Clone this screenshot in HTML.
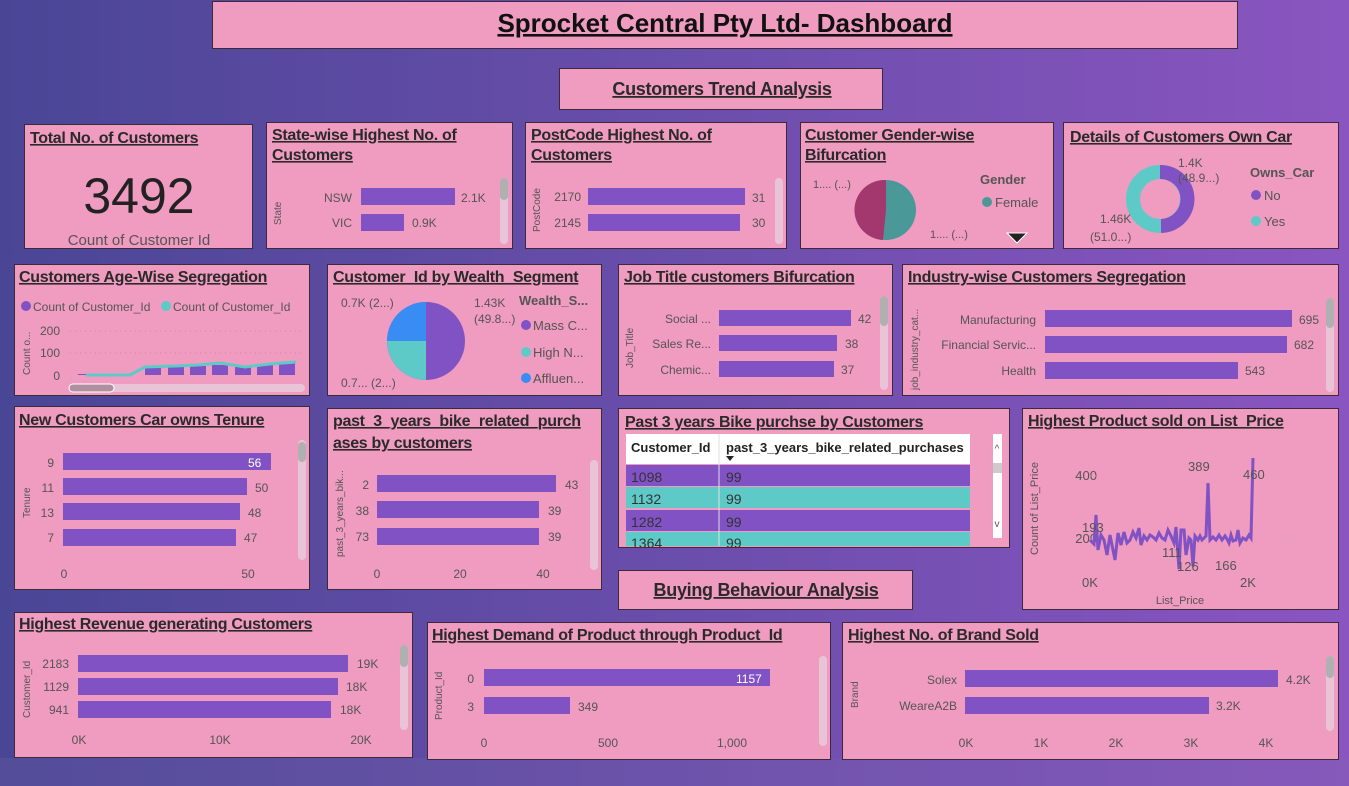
<!DOCTYPE html><html><head><meta charset="utf-8"><style>
body{margin:0;width:1349px;height:786px;overflow:hidden}
svg{display:block;font-family:"Liberation Sans",sans-serif}
.t{font-weight:bold;font-size:16px;fill:#2a2a2a;text-decoration:underline;letter-spacing:-0.3px}
.l{font-size:12px;fill:#555}
.p{fill:#f09bc0;stroke:#3a2a3a;stroke-width:1}
.b{fill:#8152c4}
.s{fill:#e8c4d6}
.sk{fill:#b0b0b0}
</style></head><body>
<svg width="1349" height="786" viewBox="0 0 1349 786">
<defs><linearGradient id="g" x1="0" x2="1"><stop offset="0" stop-color="#4a4696"/><stop offset="1" stop-color="#8a55c0"/></linearGradient></defs>
<rect width="1349" height="786" fill="url(#g)"/>
<rect x="0" y="758" width="1349" height="28" fill="#7a6aa8" opacity="0.2"/>
<!-- title -->
<rect class="p" x="212.5" y="1.5" width="1025" height="47"/>
<text x="725" y="32" text-anchor="middle" style="font-weight:bold;font-size:26px;text-decoration:underline;fill:#111">Sprocket Central Pty Ltd- Dashboard</text>
<rect class="p" x="559.5" y="68.5" width="323" height="41" stroke="none"/>
<text x="722" y="95" text-anchor="middle" class="t" style="font-size:18px">Customers Trend Analysis</text>
<!-- total -->
<rect class="p" x="24.5" y="124.5" width="228" height="124"/>
<text x="30" y="143" class="t">Total No. of Customers</text>
<text x="139" y="213" text-anchor="middle" style="font-size:50px;fill:#222">3492</text>
<text x="139" y="245" text-anchor="middle" style="font-size:15px;fill:#555">Count of Customer Id</text>
<!-- state -->
<rect class="p" x="266.5" y="122.5" width="246" height="126"/>
<text x="272" y="140" class="t">State-wise Highest No. of</text>
<text x="272" y="160" class="t">Customers</text>
<text x="281" y="225" class="l" transform="rotate(-90 281 225)" style="font-size:10px">State</text>
<text x="352" y="202" class="l" text-anchor="end">NSW</text><rect class="b" x="361" y="188" width="94" height="17"/><text x="461" y="202" class="l">2.1K</text>
<text x="352" y="227" class="l" text-anchor="end">VIC</text><rect class="b" x="361" y="214" width="43" height="17"/><text x="412" y="227" class="l">0.9K</text>
<rect class="s" x="500" y="178" width="8" height="66" rx="4"/><rect class="sk" x="500" y="178" width="8" height="22" rx="4"/>
<!-- postcode -->
<rect class="p" x="525.5" y="122.5" width="261" height="126"/>
<text x="531" y="140" class="t">PostCode Highest No. of</text>
<text x="531" y="160" class="t">Customers</text>
<text x="540" y="232" class="l" transform="rotate(-90 540 232)" style="font-size:10px">PostCode</text>
<text x="581" y="201" class="l" text-anchor="end">2170</text><rect class="b" x="588" y="188" width="157" height="17"/><text x="752" y="202" class="l">31</text>
<text x="581" y="227" class="l" text-anchor="end">2145</text><rect class="b" x="588" y="214" width="152" height="17"/><text x="752" y="227" class="l">30</text>
<rect class="s" x="775" y="178" width="8" height="66" rx="4"/>
<!-- gender -->
<rect class="p" x="800.5" y="122.5" width="253" height="126"/>
<text x="805" y="140" class="t">Customer Gender-wise</text>
<text x="805" y="160" class="t">Bifurcation</text>
<circle cx="886" cy="210" r="30" fill="#4a9898"/>
<path d="M886 210 L886 180 A30 30 0 0 0 883 240Z" fill="#a2386e"/>
<text x="813" y="188" class="l" style="font-size:11px">1.... (...)</text>
<text x="930" y="238" class="l" style="font-size:11px">1.... (...)</text>
<text x="980" y="184" class="l" style="font-weight:bold;font-size:13px">Gender</text>
<circle cx="987" cy="202" r="5" fill="#4a9898"/><text x="995" y="207" class="l" style="font-size:13px">Female</text>
<path d="M1007 233 L1027 233 L1017 243Z" fill="#222" stroke="#fff"/>
<!-- own car -->
<rect class="p" x="1063.5" y="122.5" width="275" height="126"/>
<text x="1070" y="142" class="t">Details of Customers Own Car</text>
<circle cx="1160" cy="199" r="27" fill="none" stroke="#5ecac8" stroke-width="14"/>
<path d="M1160 165 A34 34 0 0 1 1161 233 L1161 219 A20 20 0 0 0 1160 179Z" fill="#8152c4"/>
<text x="1178" y="167" class="l">1.4K</text><text x="1178" y="182" class="l">(48.9...)</text>
<text x="1100" y="223" class="l">1.46K</text><text x="1090" y="241" class="l">(51.0...)</text>
<text x="1250" y="177" class="l" style="font-weight:bold;font-size:13px">Owns_Car</text>
<circle cx="1256" cy="195" r="5" fill="#8152c4"/><text x="1264" y="200" class="l" style="font-size:13px">No</text>
<circle cx="1256" cy="221" r="5" fill="#5ecac8"/><text x="1264" y="226" class="l" style="font-size:13px">Yes</text>
<!-- age -->
<rect class="p" x="14.5" y="264.5" width="295" height="131"/>
<text x="19" y="282" class="t">Customers Age-Wise Segregation</text>
<circle cx="26" cy="306" r="5" fill="#8152c4"/><text x="33" y="311" class="l">Count of Customer_Id</text>
<circle cx="166" cy="306" r="5" fill="#5ecac8"/><text x="173" y="311" class="l">Count of Customer_Id</text>
<text x="30" y="375" class="l" transform="rotate(-90 30 375)" style="font-size:10px">Count o...</text>
<text x="60" y="335" class="l" text-anchor="end">200</text><text x="60" y="357" class="l" text-anchor="end">100</text><text x="60" y="380" class="l" text-anchor="end">0</text>
<g stroke="#c88aa8" stroke-dasharray="1 4"><line x1="70" y1="331" x2="305" y2="331"/><line x1="70" y1="353" x2="305" y2="353"/></g>
<g class="b"><rect x="78" y="374" width="8" height="1"/><rect x="145" y="367" width="16" height="8"/><rect x="168" y="367" width="16" height="8"/><rect x="190" y="366" width="16" height="9"/><rect x="212" y="365" width="16" height="10"/><rect x="235" y="366" width="16" height="9"/><rect x="257" y="365" width="16" height="10"/><rect x="279" y="363" width="16" height="12"/></g>
<polyline points="86,375 130,375 145,367 175,366 198,365 220,363 245,367 270,364 296,362" fill="none" stroke="#5ecac8" stroke-width="3"/>
<rect x="69" y="384" width="236" height="8" rx="4" fill="#e8c4d6"/><rect x="69" y="384" width="45" height="8" rx="4" fill="#b090a0" stroke="#fff"/>
<!-- wealth -->
<rect class="p" x="327.5" y="264.5" width="274" height="131"/>
<text x="333" y="282" class="t">Customer_Id by Wealth_Segment</text>
<circle cx="426" cy="341" r="39" fill="#8152c4"/>
<path d="M426 341 L426 380 A39 39 0 0 1 387 341Z" fill="#5ecac8"/>
<path d="M426 341 L387 341 A39 39 0 0 1 426 302Z" fill="#3a8cf5"/>
<text x="341" y="307" class="l">0.7K (2...)</text>
<text x="341" y="387" class="l">0.7... (2...)</text>
<text x="474" y="307" class="l">1.43K</text><text x="474" y="323" class="l">(49.8...)</text>
<text x="519" y="305" class="l" style="font-weight:bold;font-size:13px">Wealth_S...</text>
<circle cx="526" cy="325" r="5" fill="#8152c4"/><text x="533" y="330" class="l" style="font-size:13px">Mass C...</text>
<circle cx="526" cy="352" r="5" fill="#5ecac8"/><text x="533" y="357" class="l" style="font-size:13px">High N...</text>
<circle cx="526" cy="378" r="5" fill="#3a8cf5"/><text x="533" y="383" class="l" style="font-size:13px">Affluen...</text>
<!-- job -->
<rect class="p" x="618.5" y="264.5" width="274" height="131"/>
<text x="624" y="282" class="t">Job Title customers Bifurcation</text>
<text x="633" y="368" class="l" transform="rotate(-90 633 368)" style="font-size:10px">Job_Title</text>
<text x="711" y="323" class="l" text-anchor="end">Social ...</text><rect class="b" x="719" y="310" width="132" height="16"/><text x="858" y="323" class="l">42</text>
<text x="711" y="348" class="l" text-anchor="end">Sales Re...</text><rect class="b" x="719" y="335" width="118" height="16"/><text x="845" y="348" class="l">38</text>
<text x="711" y="374" class="l" text-anchor="end">Chemic...</text><rect class="b" x="719" y="361" width="115" height="16"/><text x="841" y="374" class="l">37</text>
<rect class="s" x="880" y="296" width="8" height="94" rx="4"/><rect class="sk" x="880" y="296" width="8" height="30" rx="4"/>
<!-- industry -->
<rect class="p" x="902.5" y="264.5" width="436" height="131"/>
<text x="908" y="282" class="t">Industry-wise Customers Segregation</text>
<text x="918" y="390" class="l" transform="rotate(-90 918 390)" style="font-size:10px">job_industry_cat...</text>
<text x="1036" y="324" class="l" text-anchor="end">Manufacturing</text><rect class="b" x="1045" y="310" width="247" height="17"/><text x="1299" y="324" class="l">695</text>
<text x="1036" y="349" class="l" text-anchor="end">Financial Servic...</text><rect class="b" x="1045" y="336" width="242" height="17"/><text x="1294" y="349" class="l">682</text>
<text x="1036" y="375" class="l" text-anchor="end">Health</text><rect class="b" x="1045" y="362" width="193" height="17"/><text x="1245" y="375" class="l">543</text>
<rect class="s" x="1326" y="298" width="8" height="94" rx="4"/><rect class="sk" x="1326" y="298" width="8" height="30" rx="4"/>
<!-- tenure -->
<rect class="p" x="14.5" y="406.5" width="295" height="183"/>
<text x="19" y="425" class="t">New Customers Car owns Tenure</text>
<text x="30" y="518" class="l" transform="rotate(-90 30 518)" style="font-size:10px">Tenure</text>
<text x="54" y="467" class="l" text-anchor="end">9</text><rect class="b" x="63" y="453" width="208" height="17"/><text x="248" y="467" style="font-size:12px;fill:#fff">56</text>
<text x="54" y="492" class="l" text-anchor="end">11</text><rect class="b" x="63" y="478" width="184" height="17"/><text x="255" y="492" class="l">50</text>
<text x="54" y="517" class="l" text-anchor="end">13</text><rect class="b" x="63" y="503" width="177" height="17"/><text x="248" y="517" class="l">48</text>
<text x="54" y="542" class="l" text-anchor="end">7</text><rect class="b" x="63" y="529" width="173" height="17"/><text x="244" y="542" class="l">47</text>
<text x="64" y="578" class="l" text-anchor="middle">0</text><text x="248" y="578" class="l" text-anchor="middle">50</text>
<rect class="s" x="298" y="440" width="8" height="120" rx="4"/><rect class="sk" x="298" y="442" width="8" height="20" rx="4"/>
<!-- past3 -->
<rect class="p" x="327.5" y="408.5" width="274" height="181"/>
<text x="333" y="426" class="t">past_3_years_bike_related_purch</text>
<text x="333" y="448" class="t">ases by customers</text>
<text x="343" y="557" class="l" transform="rotate(-90 343 557)" style="font-size:10px">past_3_years_bik...</text>
<text x="369" y="489" class="l" text-anchor="end">2</text><rect class="b" x="377" y="475" width="179" height="17"/><text x="565" y="489" class="l">43</text>
<text x="369" y="515" class="l" text-anchor="end">38</text><rect class="b" x="377" y="501" width="162" height="17"/><text x="548" y="515" class="l">39</text>
<text x="369" y="541" class="l" text-anchor="end">73</text><rect class="b" x="377" y="528" width="162" height="17"/><text x="548" y="541" class="l">39</text>
<text x="377" y="578" class="l" text-anchor="middle">0</text><text x="460" y="578" class="l" text-anchor="middle">20</text><text x="543" y="578" class="l" text-anchor="middle">40</text>
<rect class="s" x="590" y="460" width="8" height="110" rx="4"/>
<!-- table -->
<rect class="p" x="618.5" y="408.5" width="391" height="139"/>
<text x="625" y="427" class="t">Past 3 years Bike purchse by Customers</text>
<rect x="626" y="434" width="344" height="30" fill="#fff"/>
<text x="631" y="452" style="font-weight:bold;font-size:13px;fill:#222">Customer_Id</text>
<text x="726" y="452" style="font-weight:bold;font-size:13px;fill:#222">past_3_years_bike_related_purchases</text>
<path d="M726 456 L734 456 L730 461Z" fill="#222"/>
<rect x="626" y="465" width="344" height="21" fill="#8152c4"/>
<rect x="626" y="487" width="344" height="21" fill="#5ecac8"/>
<rect x="626" y="510" width="344" height="21" fill="#8152c4"/>
<rect x="626" y="532" width="344" height="14" fill="#5ecac8"/>
<line x1="719" y1="434" x2="719" y2="546" stroke="#e0e0e0"/>
<g class="l" style="font-size:14px;fill:#333"><text x="631" y="482">1098</text><text x="726" y="482">99</text><text x="631" y="504">1132</text><text x="726" y="504">99</text><text x="631" y="527">1282</text><text x="726" y="527">99</text><text x="631" y="548">1364</text><text x="726" y="548">99</text></g>
<rect x="993" y="434" width="9" height="104" fill="#fff"/><rect x="993" y="463" width="9" height="10" fill="#ccc"/>
<text x="997" y="452" text-anchor="middle" style="font-size:10px;fill:#555">^</text><text x="997" y="527" text-anchor="middle" style="font-size:10px;fill:#555">v</text>
<!-- buying heading -->
<rect class="p" x="618.5" y="570.5" width="294" height="39" stroke="none"/>
<text x="766" y="596" text-anchor="middle" class="t" style="font-size:18px">Buying Behaviour Analysis</text>
<!-- product price -->
<rect class="p" x="1022.5" y="408.5" width="316" height="201"/>
<text x="1028" y="426" class="t">Highest Product sold on List_Price</text>
<text x="1038" y="555" class="l" transform="rotate(-90 1038 555)" style="font-size:11px">Count of List_Price</text>
<text x="1097" y="480" class="l" text-anchor="end" style="font-size:13px">400</text><text x="1097" y="543" class="l" text-anchor="end" style="font-size:13px">200</text>
<g stroke="#d8a0bc" stroke-dasharray="1 4"><line x1="1090" y1="476" x2="1335" y2="476"/><line x1="1090" y1="539" x2="1335" y2="539"/><line x1="1090" y1="445" x2="1090" y2="573"/><line x1="1248" y1="445" x2="1248" y2="573"/></g>
<polyline points="1090,540 1094,544 1096,515 1098,550 1101,535 1104,540 1107,555 1110,535 1112,545 1115,560 1118,533 1121,545 1124,532 1127,543 1130,540 1133,532 1136,538 1139,528 1141,545 1144,536 1147,540 1150,535 1153,537 1156,540 1159,533 1162,538 1165,540 1168,530 1171,536 1174,543 1176,527 1179,569 1181,530 1184,530 1186,555 1189,538 1191,540 1193,566 1195,536 1198,540 1200,536 1202,540 1204,538 1206,536 1208,483 1210,540 1213,537 1216,540 1219,535 1222,540 1225,536 1227,539 1229,543 1231,535 1233,541 1236,540 1238,530 1240,543 1243,538 1246,540 1249,535 1251,538 1253,458" fill="none" stroke="#8152c4" stroke-width="3"/>
<g class="l" style="font-size:13px"><text x="1082" y="532">193</text><text x="1188" y="471">389</text><text x="1243" y="479">460</text><text x="1162" y="557">111</text><text x="1177" y="571">126</text><text x="1215" y="570">166</text>
<text x="1090" y="587" text-anchor="middle">0K</text><text x="1248" y="587" text-anchor="middle">2K</text></g>
<text x="1180" y="604" class="l" text-anchor="middle" style="font-size:11px">List_Price</text>
<!-- revenue -->
<rect class="p" x="14.5" y="612.5" width="398" height="145"/>
<text x="19" y="629" class="t">Highest Revenue generating Customers</text>
<text x="30" y="718" class="l" transform="rotate(-90 30 718)" style="font-size:10px">Customer_Id</text>
<text x="69" y="668" class="l" text-anchor="end">2183</text><rect class="b" x="78" y="655" width="270" height="17"/><text x="357" y="668" class="l">19K</text>
<text x="69" y="691" class="l" text-anchor="end">1129</text><rect class="b" x="78" y="678" width="260" height="17"/><text x="346" y="691" class="l">18K</text>
<text x="69" y="714" class="l" text-anchor="end">941</text><rect class="b" x="78" y="701" width="253" height="17"/><text x="340" y="714" class="l">18K</text>
<text x="79" y="744" class="l" text-anchor="middle">0K</text><text x="220" y="744" class="l" text-anchor="middle">10K</text><text x="361" y="744" class="l" text-anchor="middle">20K</text>
<rect class="s" x="400" y="645" width="8" height="85" rx="4"/><rect class="sk" x="400" y="645" width="8" height="22" rx="4"/>
<!-- demand -->
<rect class="p" x="427.5" y="622.5" width="403" height="137"/>
<text x="432" y="640" class="t">Highest Demand of Product through Product_Id</text>
<text x="442" y="720" class="l" transform="rotate(-90 442 720)" style="font-size:10px">Product_Id</text>
<text x="474" y="683" class="l" text-anchor="end">0</text><rect class="b" x="484" y="669" width="286" height="17"/><text x="736" y="683" style="font-size:12px;fill:#fff">1157</text>
<text x="474" y="711" class="l" text-anchor="end">3</text><rect class="b" x="484" y="697" width="86" height="17"/><text x="578" y="711" class="l">349</text>
<text x="484" y="747" class="l" text-anchor="middle">0</text><text x="608" y="747" class="l" text-anchor="middle">500</text><text x="732" y="747" class="l" text-anchor="middle">1,000</text>
<rect class="s" x="819" y="656" width="8" height="90" rx="4"/>
<!-- brand -->
<rect class="p" x="842.5" y="622.5" width="496" height="137"/>
<text x="848" y="640" class="t">Highest No. of Brand Sold</text>
<text x="858" y="708" class="l" transform="rotate(-90 858 708)" style="font-size:10px">Brand</text>
<text x="957" y="684" class="l" text-anchor="end">Solex</text><rect class="b" x="965" y="670" width="313" height="17"/><text x="1286" y="684" class="l">4.2K</text>
<text x="957" y="710" class="l" text-anchor="end">WeareA2B</text><rect class="b" x="965" y="697" width="244" height="17"/><text x="1216" y="710" class="l">3.2K</text>
<g class="l" text-anchor="middle"><text x="966" y="747">0K</text><text x="1041" y="747">1K</text><text x="1116" y="747">2K</text><text x="1191" y="747">3K</text><text x="1266" y="747">4K</text></g>
<rect class="s" x="1326" y="656" width="8" height="75" rx="4"/><rect class="sk" x="1326" y="656" width="8" height="22" rx="4"/>
</svg>
</body></html>
